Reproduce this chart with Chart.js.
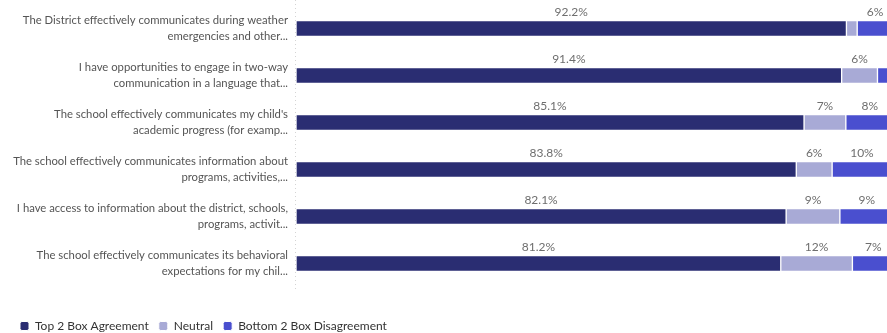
<!DOCTYPE html>
<html>
<head>
<meta charset="utf-8">
<script src="https://cdn.jsdelivr.net/npm/chart.js@4/dist/chart.umd.min.js"></script>
<style>
  html, body { margin: 0; padding: 0; overflow: hidden; background: #ffffff; }
  #wrap { width: 893px; height: 333px; position: relative; }
</style>
</head>
<body>
<div id="wrap"><canvas id="c"></canvas></div>
<script>
// Survey statements (shown truncated, two lines each)
const categories = [
  ["The District effectively communicates during weather", "emergencies and other..."],
  ["I have opportunities to engage in two-way", "communication in a language that..."],
  ["The school effectively communicates my child's", "academic progress (for examp..."],
  ["The school effectively communicates information about", "programs, activities,..."],
  ["I have access to information about the district, schools,", "programs, activit..."],
  ["The school effectively communicates its behavioral", "expectations for my chil..."]
];

// Percent of respondents per response group
const topBoxAgreement = [92.2, 91.4, 85.1, 83.8, 82.1, 81.2];
const neutral = [1.8, 6, 7, 6, 9, 12];
const bottomBoxDisagreement = [6, 2.6, 8, 10, 9, 7];

const seriesNames = ["Top 2 Box Agreement", "Neutral", "Bottom 2 Box Disagreement"];
const seriesColors = ["#2a2d72", "#a8aad6", "#4a4fcf"];

const FONT = "Lato, 'Open Sans', sans-serif";

// Percent labels above each segment
const segmentLabels = {
  id: 'segmentLabels',
  afterDatasetsDraw(chart) {
    const ctx = chart.ctx;
    ctx.save();
    ctx.font = "12px " + FONT;
    ctx.fillStyle = "#6e6e6e";
    ctx.textAlign = "center";
    ctx.textBaseline = "middle";
    chart.data.datasets.forEach((ds, di) => {
      const meta = chart.getDatasetMeta(di);
      meta.data.forEach((bar, i) => {
        const v = ds.data[i];
        if (v < 4) return;
        const txt = di === 0 ? v.toFixed(1) + "%" : Math.round(v) + "%";
        const cx = (bar.x + bar.base) / 2;
        const top = bar.y - bar.height / 2;
        ctx.fillText(txt, cx, top - 8);
      });
    });
    ctx.restore();
  }
};

// Keep the legend row close to the bottom edge
const legendOffset = {
  id: 'legendOffset',
  afterInit(chart) {
    const lg = chart.legend;
    if (!lg) return;
    const fit = lg.fit;
    lg.fit = function () {
      fit.call(this);
      this.height -= 9;
    };
  }
};

// Dotted baseline along the left edge of the bars
const baseline = {
  id: 'baseline',
  beforeDatasetsDraw(chart) {
    const ctx = chart.ctx;
    const x = Math.round(chart.scales.x.getPixelForValue(0)) - 0.5;
    ctx.save();
    ctx.strokeStyle = "#d4d4d4";
    ctx.lineWidth = 1;
    ctx.setLineDash([1, 3]);
    ctx.beginPath();
    ctx.moveTo(x, 0);
    ctx.lineTo(x, chart.chartArea.bottom + 4);
    ctx.stroke();
    ctx.restore();
  }
};

new Chart(document.getElementById('c'), {
  type: 'bar',
  data: {
    labels: categories,
    datasets: [
      { label: seriesNames[0], data: topBoxAgreement, backgroundColor: seriesColors[0] },
      { label: seriesNames[1], data: neutral, backgroundColor: seriesColors[1] },
      { label: seriesNames[2], data: bottomBoxDisagreement, backgroundColor: seriesColors[2] }
    ].map(d => Object.assign(d, {
      borderColor: "#ffffff",
      borderWidth: 1,
      borderSkipped: false,
      barThickness: 16,
      categoryPercentage: 1
    }))
  },
  options: {
    indexAxis: 'y',
    responsive: true,
    maintainAspectRatio: false,
    animation: false,
    layout: { padding: { left: 10, top: 5, right: 0, bottom: 0 } },
    scales: {
      x: {
        stacked: true,
        min: 0,
        max: 100,
        display: true,
        ticks: { display: false },
        grid: { display: false, drawTicks: false },
        border: { display: false },
        afterFit(scale) { scale.height = 23; scale.paddingLeft = 0; scale.paddingRight = 0; }
      },
      y: {
        stacked: true,
        ticks: {
          color: "#555555",
          font: { family: FONT, size: 11.3, lineHeight: 1.4 },
          padding: 8
        },
        grid: { display: false, drawTicks: false },
        border: { display: false },
        afterFit(scale) {
          scale.width = 286;
          scale.paddingTop = 0;
          scale.paddingBottom = 0;
        }
      }
    },
    plugins: {
      tooltip: { enabled: false },
      legend: {
        position: 'bottom',
        align: 'start',
        labels: {
          boxWidth: 9,
          boxHeight: 9,
          useBorderRadius: true,
          borderRadius: 2,
          padding: 10,
          color: "#333333",
          font: { family: FONT, size: 12 }
        }
      }
    }
  },
  plugins: [segmentLabels, legendOffset, baseline]
});
</script>
</body>
</html>
